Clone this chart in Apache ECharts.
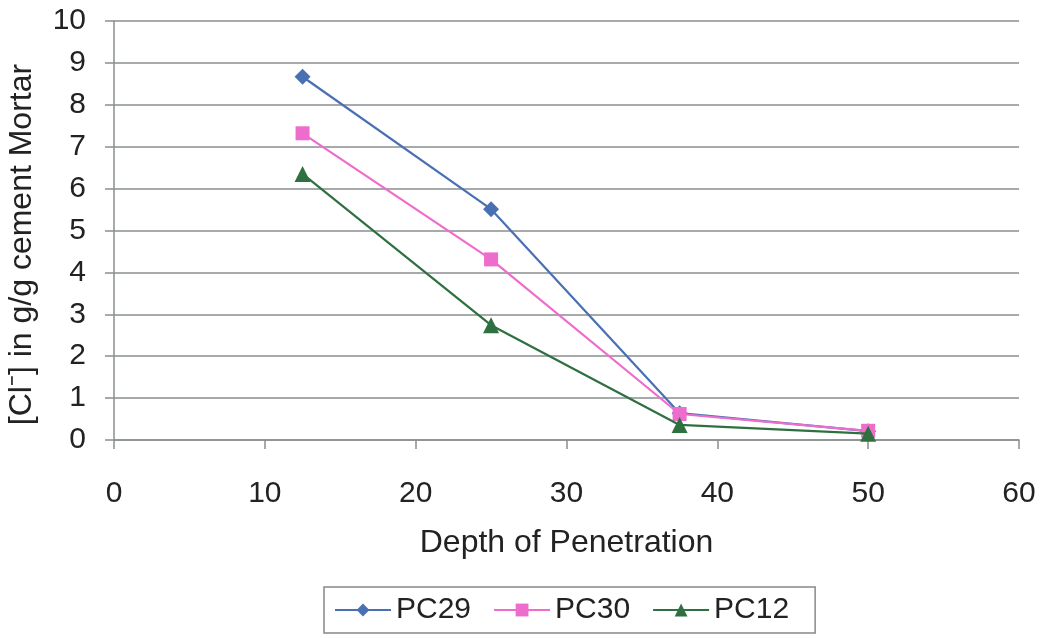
<!DOCTYPE html>
<html><head><meta charset="utf-8">
<script src="https://cdn.jsdelivr.net/npm/echarts@6/dist/echarts.min.js"></script>
<style>html,body{margin:0;padding:0;background:#fff}#c{width:1042px;height:638px}</style>
</head><body><div id="c"></div>
<script>
const depths = [12.5, 25, 37.5, 50];
const pc29 = [8.67, 5.51, 0.64, 0.21];
const pc30 = [7.32, 4.31, 0.62, 0.22];
const pc12 = [6.35, 2.74, 0.36, 0.15];
const seriesNames = ['PC29', 'PC30', 'PC12'];
const xTitle = 'Depth of Penetration';
const yTitle = '[Cl\u207B] in g/g cement Mortar';

const font = 'Liberation Sans, Arial, sans-serif';
const colors = ['#4a70b4', '#ee6ccb', '#2f7040'];
const symbols = ['diamond', 'rect', 'triangle'];
const sizes = [16, 14, 16];
const vals = [pc29, pc30, pc12];

const chart = echarts.init(document.getElementById('c'), null, {renderer: 'canvas'});
chart.setOption({
  backgroundColor: '#fff',
  animation: false,
  grid: {left: 114, right: 23, top: 21, bottom: 198, outerBoundsMode: 'none', containLabel: false},
  xAxis: {
    type: 'value', min: 0, max: 60, interval: 10,
    name: xTitle, nameLocation: 'middle', nameGap: 87,
    nameTextStyle: {fontFamily: font, fontSize: 32, color: '#222'},
    axisLine: {show: true, lineStyle: {color: '#8a8e8e', width: 1.5}},
    axisTick: {show: true, length: 9, lineStyle: {color: '#8a8e8e', width: 1.5}},
    axisLabel: {fontFamily: font, fontSize: 30, color: '#222', margin: 39},
    splitLine: {show: false}
  },
  yAxis: {
    type: 'value', min: 0, max: 10, interval: 1,
    name: yTitle, nameLocation: 'middle', nameGap: 76,
    nameTextStyle: {fontFamily: font, fontSize: 32, color: '#222', padding: [0, 28, 0, 0]},
    axisLine: {show: true, lineStyle: {color: '#8a8e8e', width: 1.5}},
    axisTick: {show: true, length: 9, lineStyle: {color: '#8a8e8e', width: 1.5}},
    axisLabel: {fontFamily: font, fontSize: 30, color: '#222', margin: 28},
    splitLine: {show: true, lineStyle: {color: '#8a8e8e', width: 1.5}}
  },
  legend: {
    left: 324, top: 587,
    data: seriesNames,
    itemWidth: 56, itemHeight: 16, itemGap: 22,
    padding: [8, 26, 8, 10],
    borderColor: '#888', borderWidth: 1.5,
    textStyle: {fontFamily: font, fontSize: 30, color: '#222'}
  },
  series: seriesNames.map((n, i) => ({
    name: n, type: 'line',
    data: depths.map((d, j) => [d, vals[i][j]]),
    symbol: symbols[i], symbolSize: sizes[i],
    lineStyle: {color: colors[i], width: 2.2},
    itemStyle: {color: colors[i]},
    z: 3 + i
  }))
});
</script></body></html>
